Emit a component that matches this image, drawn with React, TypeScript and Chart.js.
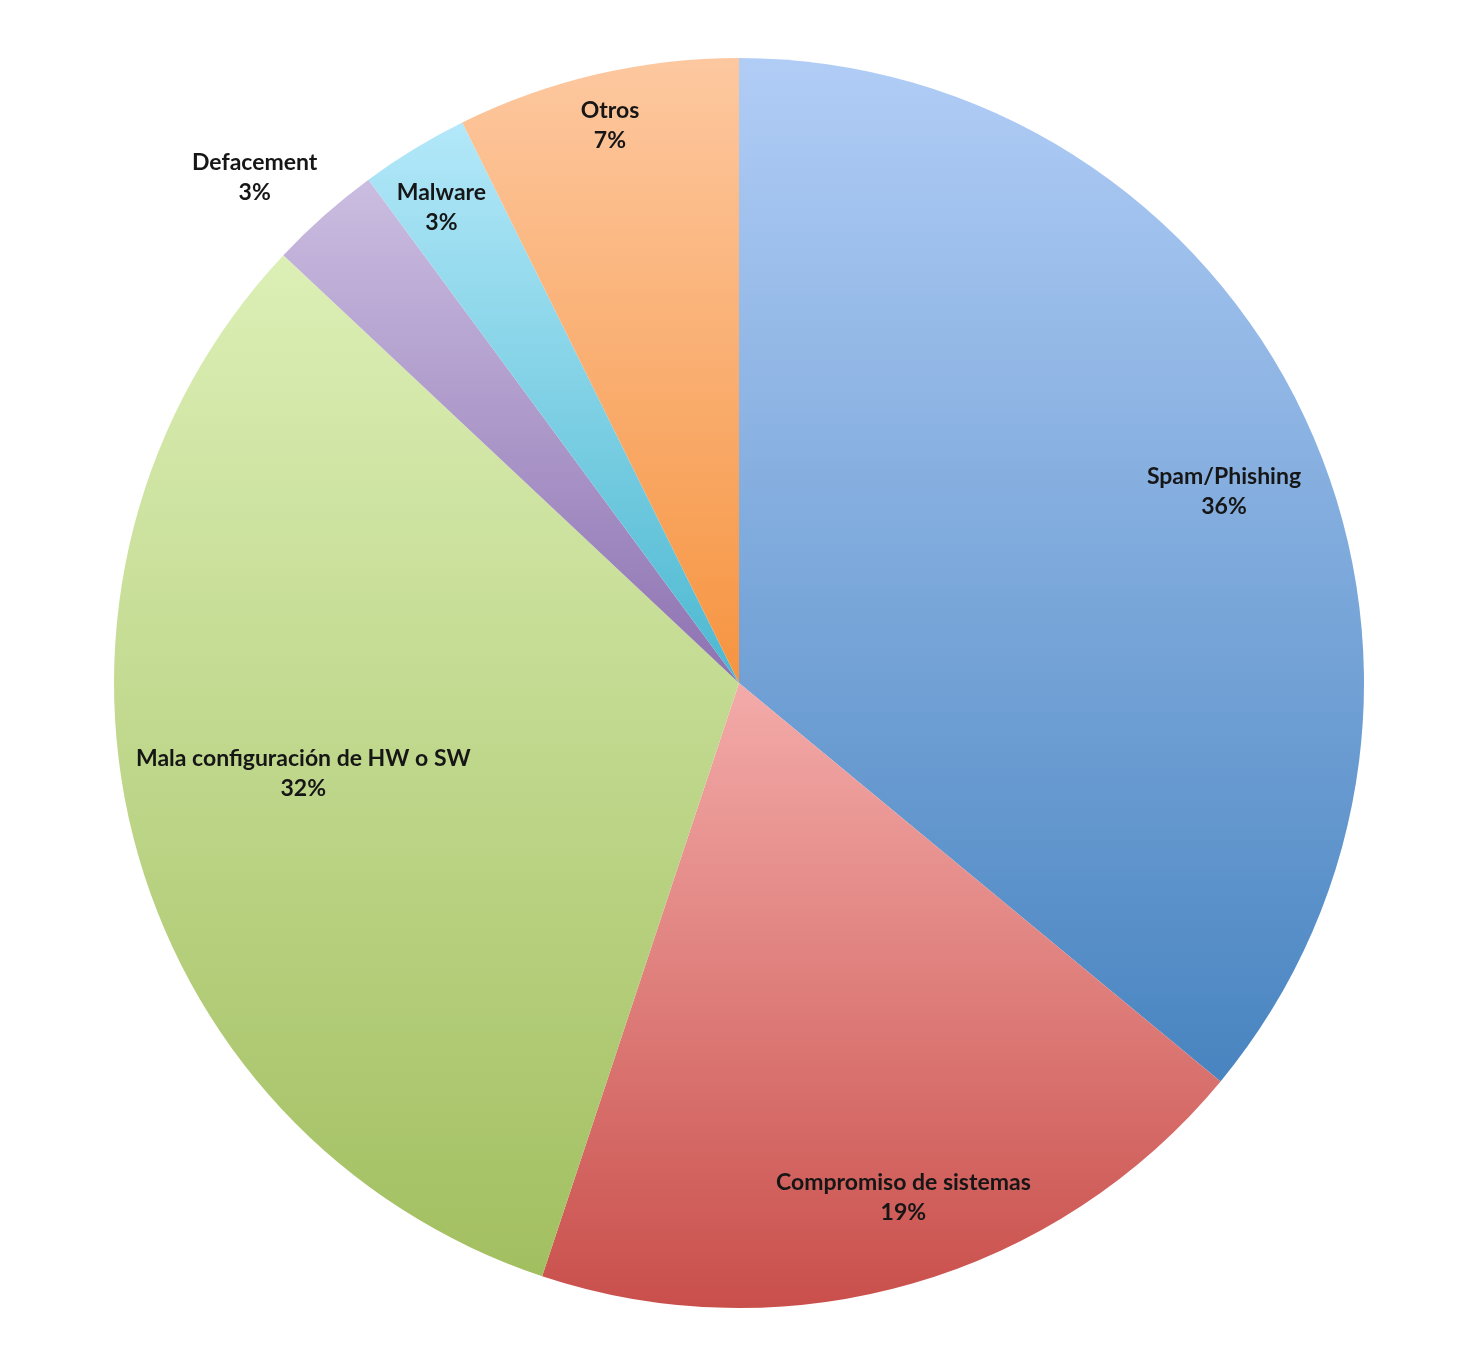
import { useEffect, useRef } from "react";
import { Chart, registerables } from "chart.js";

Chart.register(...registerables);

const categories = [
  "Spam/Phishing",
  "Compromiso de sistemas",
  "Mala configuración de HW o SW",
  "Defacement",
  "Malware",
  "Otros",
];
const values = [36.0, 19.1, 31.9, 2.9, 2.8, 7.3];
const percentLabels = ["36%", "19%", "32%", "3%", "3%", "7%"];

const topColors = ["#b1cdf6", "#f3aba9", "#dcefb6", "#cbbde1", "#b3e8f9", "#fdc8a0"];
const bottomColors = ["#4884c0", "#c94f4b", "#a2bf60", "#8d72b1", "#4bb8d0", "#f69440"];

// label placement (style): radial factor and angular shift (deg) from slice middle
const labelRadius = [0.834, 0.864, 0.712, 1.12, 0.898, 0.915];
const labelAngleShift = [3.7, -1.7, 2.5, -2.2, -0.7, 0.1];

const gradientPlugin = {
  id: "sliceGradient",
  beforeDatasetsDraw(chart: any) {
    const ctx = chart.ctx;
    const meta = chart.getDatasetMeta(0);
    meta.data.forEach((el: any, i: number) => {
      const { x, y, startAngle, endAngle, outerRadius } = el.getProps(
        ["x", "y", "startAngle", "endAngle", "outerRadius"],
        true
      );
      const ys = [y, y + outerRadius * Math.sin(startAngle), y + outerRadius * Math.sin(endAngle)];
      const inRange = (a: number) => {
        for (let k = -2; k <= 2; k++) {
          const b = a + k * 2 * Math.PI;
          if (b >= startAngle && b <= endAngle) return true;
        }
        return false;
      };
      if (inRange(Math.PI / 2)) ys.push(y + outerRadius);
      if (inRange(-Math.PI / 2)) ys.push(y - outerRadius);
      const y0 = Math.min(...ys);
      const y1 = Math.max(...ys);
      const g = ctx.createLinearGradient(0, y0, 0, y1);
      g.addColorStop(0, topColors[i]);
      g.addColorStop(1, bottomColors[i]);
      el.options = { ...el.options, backgroundColor: g };
    });
  },
};

const labelPlugin = {
  id: "sliceLabels",
  afterDatasetsDraw(chart: any) {
    const ctx = chart.ctx;
    const meta = chart.getDatasetMeta(0);
    ctx.save();
    ctx.font = "bold 23px Lato, 'Open Sans', sans-serif";
    ctx.fillStyle = "#161616";
    ctx.textAlign = "center";
    ctx.textBaseline = "middle";
    meta.data.forEach((el: any, i: number) => {
      const { x, y, startAngle, endAngle, outerRadius } = el.getProps(
        ["x", "y", "startAngle", "endAngle", "outerRadius"],
        true
      );
      const mid = (startAngle + endAngle) / 2 + (labelAngleShift[i] * Math.PI) / 180;
      const r = outerRadius * labelRadius[i];
      const lx = x + r * Math.cos(mid);
      const ly = y + r * Math.sin(mid);
      ctx.fillText(categories[i], lx, ly - 15);
      ctx.fillText(percentLabels[i], lx, ly + 15);
    });
    ctx.restore();
  },
};

export default function App() {
  const canvasRef = useRef<HTMLCanvasElement | null>(null);

  useEffect(() => {
    if (!canvasRef.current) return;
    const chart = new Chart(canvasRef.current, {
      type: "pie",
      data: {
        labels: categories,
        datasets: [
          {
            data: values,
            backgroundColor: topColors,
            borderWidth: 0,
            hoverOffset: 0,
            offset: 0,
          },
        ],
      },
      options: {
        responsive: false,
        animation: false,
        devicePixelRatio: 1,
        events: [],
        layout: { padding: { left: 106, right: 102, top: 50, bottom: 32 } },
        plugins: {
          legend: { display: false },
          tooltip: { enabled: false },
          title: { display: false },
        },
      },
      plugins: [gradientPlugin, labelPlugin],
    });
    return () => chart.destroy();
  }, []);

  return (
    <div style={{ width: 1458, height: 1332, background: "#ffffff" }}>
      <canvas ref={canvasRef} width={1458} height={1332} style={{ display: "block" }} />
    </div>
  );
}
